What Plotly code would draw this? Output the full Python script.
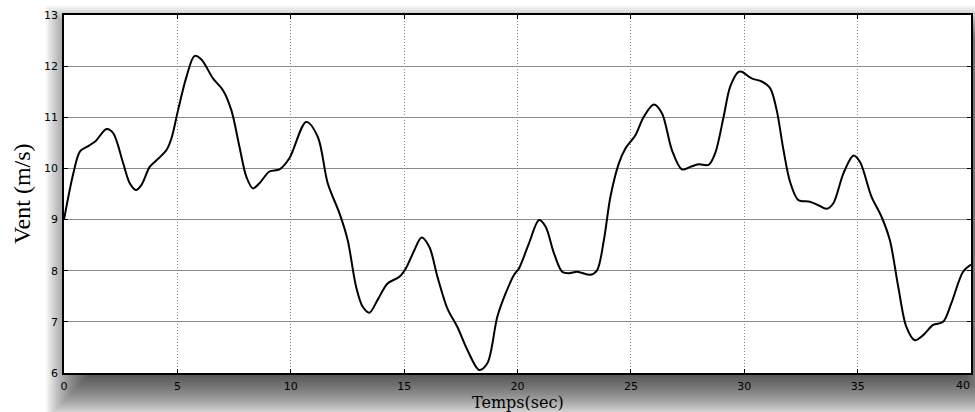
import plotly.graph_objects as go

# ---- data ----
temps = [0.0, 0.41, 0.70, 1.00, 1.36, 1.88, 2.17, 2.61, 2.90, 3.17, 3.42, 3.78, 4.08, 4.52,
         4.74, 5.03, 5.40, 5.76, 6.06, 6.57, 7.01, 7.38, 7.74, 8.04, 8.33, 8.62, 9.06, 9.50,
         9.94, 10.68, 11.19, 11.63, 12.15, 12.51, 12.88, 13.17, 13.47, 13.83, 14.27, 14.79,
         15.08, 15.45, 15.77, 16.11, 16.47, 16.91, 17.35, 17.79, 18.31, 18.67, 19.11, 19.48,
         19.85, 20.07, 20.51, 20.95, 21.24, 21.61, 21.97, 22.27, 22.63, 23.22, 23.51, 23.81,
         24.10, 24.47, 24.76, 25.20, 25.57, 26.01, 26.37, 26.81, 27.25, 27.62, 27.99, 28.43,
         28.72, 29.09, 29.38, 29.75, 29.89, 30.33, 30.77, 31.14, 31.43, 31.73, 32.02, 32.39,
         32.90, 33.27, 33.63, 33.93, 34.37, 34.81, 35.10, 35.61, 36.05, 36.42, 36.79, 37.15,
         37.52, 37.89, 38.33, 38.77, 39.13, 39.65, 40.0]
vent = [9.00, 9.90, 10.33, 10.42, 10.52, 10.77, 10.69, 10.10, 9.71, 9.58, 9.68, 10.03, 10.16, 10.36,
        10.59, 11.14, 11.79, 12.20, 12.13, 11.76, 11.53, 11.14, 10.42, 9.84, 9.61, 9.71, 9.94, 9.98,
        10.20, 10.91, 10.62, 9.71, 9.12, 8.60, 7.69, 7.30, 7.18, 7.43, 7.75, 7.88,
        8.05, 8.40, 8.65, 8.47, 7.88, 7.26, 6.90, 6.45, 6.06, 6.19, 7.10, 7.56,
        7.92, 8.05, 8.54, 8.99, 8.86, 8.34, 7.98, 7.95, 7.98, 7.92, 8.01, 8.60,
        9.45, 10.10, 10.39, 10.65, 11.01, 11.25, 11.08, 10.36, 9.98, 10.03, 10.08, 10.07,
        10.30, 11.01, 11.60, 11.89, 11.89, 11.76, 11.70, 11.57, 11.14, 10.36, 9.74, 9.38,
        9.35, 9.28, 9.21, 9.32, 9.90, 10.25, 10.13, 9.45, 9.06, 8.60, 7.69, 6.90,
        6.64, 6.74, 6.94, 7.00, 7.36, 7.98, 8.12]
x_ticks = [0, 5, 10, 15, 20, 25, 30, 35, 40]
y_ticks = [6, 7, 8, 9, 10, 11, 12, 13]
x_title = "Temps(sec)"
y_title = "Vent (m/s)"

W, H = 975, 412
L, R, T, B = 64, 2, 15, 39
PW, PH = W - L - R, H - T - B


def px2x(px):
    return (px - L) / PW


def py2y(py):
    return (T + PH - py) / PH


fig = go.Figure()
fig.add_trace(go.Scatter(x=temps, y=vent, mode="lines",
                         line=dict(color="black", width=2, shape="spline", smoothing=0.9),
                         showlegend=False, hoverinfo="skip"))

# blurred drop shadow behind the plot area
shapes = []
N = 25
blur = 50
bx0, bx1, by0, by1 = 70, 985, 30, 395
for k in range(N):
    e = blur * (0.5 - (k + 0.5) / N)
    shapes.append(dict(type="rect", xref="paper", yref="paper", layer="below",
                       x0=px2x(bx0 - e), x1=px2x(bx1 + e),
                       y0=py2y(by1 + e), y1=py2y(by0 - e),
                       line=dict(width=0), fillcolor="black", opacity=0.045))
shapes.append(dict(type="rect", xref="paper", yref="paper", layer="below",
                   x0=0, x1=1, y0=0, y1=1, line=dict(width=0), fillcolor="white"))

tickfont = dict(family="DejaVu Sans, Arial, sans-serif", size=11, color="black")
# last x label sits at the page edge, so it is placed right-aligned to stay visible
x_labels = [str(v) for v in x_ticks]
fig.update_layout(
    width=W, height=H,
    margin=dict(l=L, r=R, t=T, b=B),
    paper_bgcolor="white",
    plot_bgcolor="rgba(0,0,0,0)",
    shapes=shapes,
    xaxis=dict(range=[0, 40], tickvals=x_ticks[:-1], ticktext=x_labels[:-1],
               ticks="inside", ticklen=4, tickcolor="black",
               showline=True, linecolor="black", linewidth=1.5, mirror="ticks",
               showgrid=True, gridcolor="#8a8a8a", gridwidth=1, griddash="1px,2px",
               zeroline=False, tickfont=tickfont, ticklabelstandoff=2),
    yaxis=dict(range=[6, 13], tickvals=y_ticks, ticks="inside", ticklen=4, tickcolor="black",
               showline=True, linecolor="black", linewidth=1.5, mirror="ticks",
               showgrid=True, gridcolor="#8a8a8a", gridwidth=1,
               zeroline=False, tickfont=tickfont, ticklabelstandoff=2),
    annotations=[
        dict(text=x_labels[-1], xref="paper", yref="paper", x=px2x(975), y=py2y(385),
             xanchor="right", yanchor="middle", showarrow=False, font=tickfont,
             xshift=-1),
        dict(text=x_title, xref="paper", yref="paper", x=0.5, y=py2y(402),
             xanchor="center", yanchor="middle", showarrow=False,
             font=dict(family="DejaVu Serif, Times New Roman, serif", size=16, color="black")),
        dict(text=y_title, xref="paper", yref="paper", x=px2x(22), y=0.5, textangle=-90,
             xanchor="center", yanchor="middle", showarrow=False,
             font=dict(family="Liberation Serif, Times New Roman, serif", size=24, color="black")),
    ],
)

fig.write_html("out.html")
